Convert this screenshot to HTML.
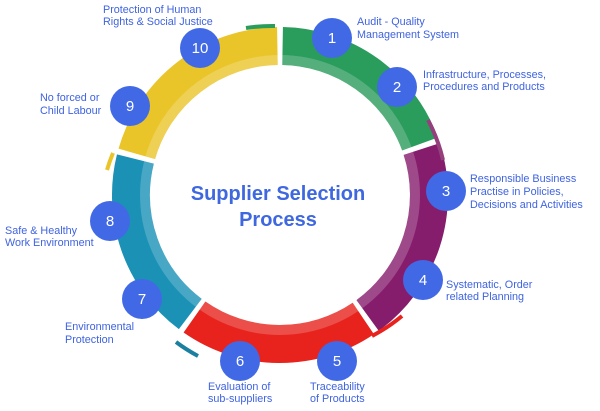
<!DOCTYPE html>
<html><head><meta charset="utf-8"><style>
html,body{margin:0;padding:0;background:#fff;}
svg{display:block;}
text{font-family:"Liberation Sans",sans-serif;}
.l{fill:#3f63e0;font-size:10.8px;}
.n{fill:#fff;font-size:15px;text-anchor:middle;}
</style></head><body>
<svg width="600" height="411" viewBox="0 0 600 411" xmlns="http://www.w3.org/2000/svg">
<g fill="none" stroke-width="38">
<path d="M282.6 46 A149 149 0 0 1 420 144" stroke="#2a9c5c"/>
<path d="M421.7 149 A149 149 0 0 1 367.6 315.5" stroke="#861c6c"/>
<path d="M363.3 318.5 A149 149 0 0 1 194.5 317" stroke="#e8221c"/>
<path d="M190.3 314 A149 149 0 0 1 135.4 159" stroke="#1b91b6"/>
<path d="M136.8 153.9 A149 149 0 0 1 277.4 46" stroke="#e9c52a"/>
</g>
<g fill="none" stroke-width="4">
<path d="M428 120 A166 166 0 0 1 443 160" stroke="#95407c"/>
<path d="M372 336 A168 168 0 0 0 402 316" stroke="#e8221c"/>
<path d="M176 342 A168 168 0 0 0 198 356" stroke="#1b7fa0"/>
<path d="M113 153 A168 168 0 0 0 107 170" stroke="#e9c52a"/>
<path d="M246 28 A167 167 0 0 1 275 26" stroke="#2a9c5c"/>
</g>
<g fill="none" stroke-width="10" stroke="#fff" opacity="0.2">
<circle cx="280" cy="195" r="135"/>
</g>
<g fill="#4169e6">
<circle cx="332" cy="38" r="20"/><circle cx="397" cy="87" r="20"/>
<circle cx="446" cy="191" r="20"/><circle cx="423" cy="280" r="20"/>
<circle cx="337" cy="361" r="20"/><circle cx="240" cy="361" r="20"/>
<circle cx="142" cy="299" r="20"/><circle cx="110" cy="221" r="20"/>
<circle cx="130" cy="106" r="20"/><circle cx="200" cy="48" r="20"/>
</g>
<g class="n">
<text x="332" y="43">1</text><text x="397" y="92">2</text>
<text x="446" y="196">3</text><text x="423" y="285">4</text>
<text x="337" y="366">5</text><text x="240" y="366">6</text>
<text x="142" y="304">7</text><text x="110" y="226">8</text>
<text x="130" y="111">9</text><text x="200" y="53">10</text>
</g>
<text x="278" y="200" text-anchor="middle" font-size="20" font-weight="bold" fill="#3f68e0">Supplier Selection</text>
<text x="278" y="226" text-anchor="middle" font-size="20" font-weight="bold" fill="#3f68e0">Process</text>
<g class="l">
<text x="357" y="25">Audit - Quality</text><text x="357" y="38">Management System</text>
<text x="423" y="78">Infrastructure, Processes,</text><text x="423" y="90">Procedures and Products</text>
<text x="470" y="182">Responsible Business</text><text x="470" y="195">Practise in Policies,</text><text x="470" y="208">Decisions and Activities</text>
<text x="446" y="288">Systematic, Order</text><text x="446" y="300">related Planning</text>
<text x="310" y="390">Traceability</text><text x="310" y="402">of Products</text>
<text x="208" y="390">Evaluation of</text><text x="208" y="402">sub-suppliers</text>
<text x="65" y="330">Environmental</text><text x="65" y="343">Protection</text>
<text x="5" y="234">Safe &amp; Healthy</text><text x="5" y="246">Work Environment</text>
<text x="40" y="101">No forced or</text><text x="40" y="114">Child Labour</text>
<text x="103" y="13">Protection of Human</text><text x="103" y="25">Rights &amp; Social Justice</text>
</g>
</svg>
</body></html>
